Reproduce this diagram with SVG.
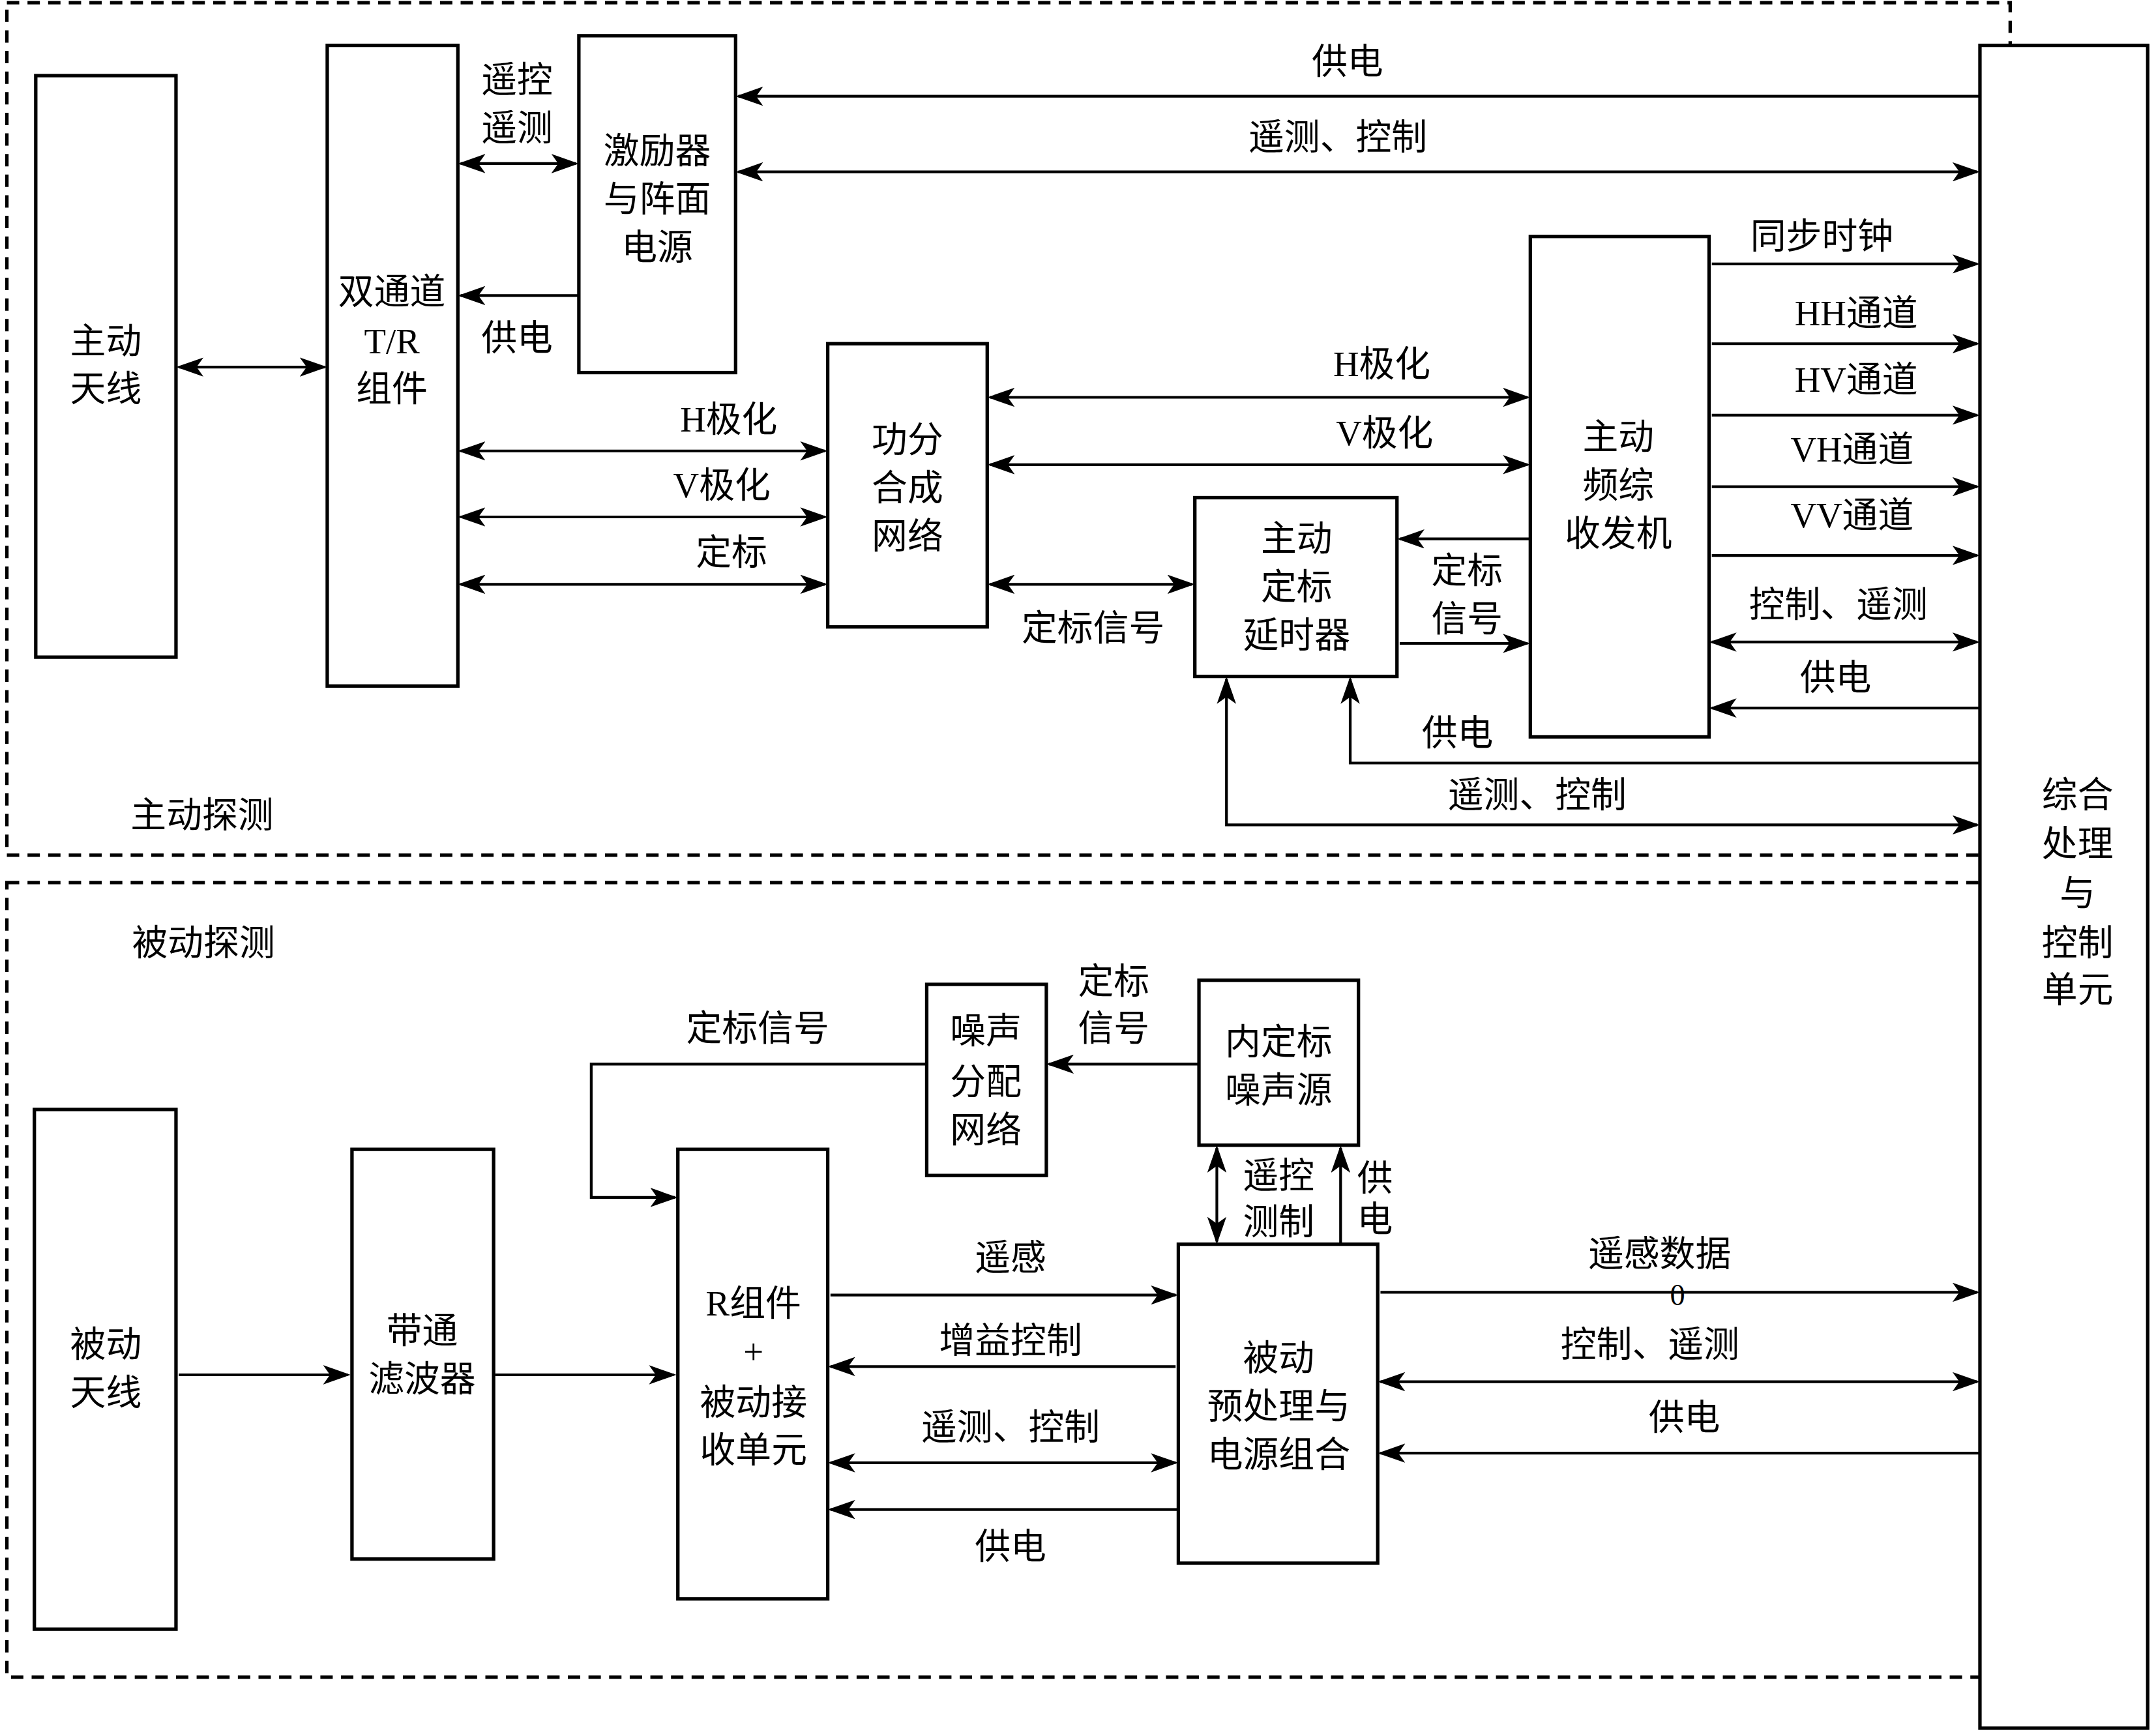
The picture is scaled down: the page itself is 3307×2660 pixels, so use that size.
<svg xmlns="http://www.w3.org/2000/svg" width="3307" height="2660" viewBox="0 0 3307 2660">
<style>
.b{fill:#fff;stroke:#000;stroke-width:2.5}
.d{fill:none;stroke:#000;stroke-width:2.5;stroke-dasharray:9 6}
.c{fill:none;stroke:#000;stroke-width:2}
text{font-family:"Liberation Serif","Noto Sans CJK SC",serif;font-size:26px;text-anchor:middle;dominant-baseline:central;fill:#000}
</style>
<defs>
<marker id="a" markerUnits="userSpaceOnUse" markerWidth="20" markerHeight="14" refX="18" refY="7" orient="auto-start-reverse"><path d="M0,0 L20,7 L0,14 L5,7 z" fill="#000"/></marker>
</defs>
<rect width="3307" height="2660" fill="#fff"/>
<g transform="scale(2.109)">
<rect class="d" x="5" y="2" width="1457" height="620"/>
<rect class="d" x="5" y="642" width="1457" height="578"/>
<g id="ctrl"><rect class="b" x="1440" y="33" width="122" height="1224"/><text x="1511" y="578">综合</text><text x="1511" y="614">处理</text><text x="1511" y="650">与</text><text x="1511" y="686">控制</text><text x="1511" y="720">单元</text></g>
<g id="ant1"><rect class="b" x="26" y="55" width="102" height="423"/><text x="77" y="248">主动</text><text x="77" y="283">天线</text></g>
<g id="tr"><rect class="b" x="238" y="33" width="95" height="466"/><text x="285" y="212">双通道</text><text x="285" y="248">T/R</text><text x="285" y="283">组件</text></g>
<g id="exc"><rect class="b" x="421" y="26" width="114" height="245"/><text x="478" y="110">激励器</text><text x="478" y="145">与阵面</text><text x="478" y="180">电源</text></g>
<g id="pwr"><rect class="b" x="602" y="250" width="116" height="206"/><text x="660" y="320">功分</text><text x="660" y="355">合成</text><text x="660" y="390">网络</text></g>
<g id="fz"><rect class="b" x="1113" y="172" width="130" height="364"/><text x="1177" y="318">主动</text><text x="1177" y="353">频综</text><text x="1177" y="388">收发机</text></g>
<g id="dl"><rect class="b" x="869" y="362" width="147" height="130"/><text x="943" y="392">主动</text><text x="943" y="427">定标</text><text x="943" y="462">延时器</text></g>
<g id="ant2"><rect class="b" x="25" y="807" width="103" height="378"/><text x="77" y="978">被动</text><text x="77" y="1013">天线</text></g>
<g id="bp"><rect class="b" x="256" y="836" width="103" height="298"/><text x="307" y="968">带通</text><text x="307" y="1003">滤波器</text></g>
<g id="r"><rect class="b" x="493" y="836" width="109" height="327"/><text x="548" y="948">R组件</text><text x="548" y="983">+</text><text x="548" y="1020">被动接</text><text x="548" y="1055">收单元</text></g>
<g id="nd"><rect class="b" x="674" y="716" width="87" height="139"/><text x="717" y="750">噪声</text><text x="717" y="787">分配</text><text x="717" y="822">网络</text></g>
<g id="ns"><rect class="b" x="872" y="713" width="116" height="120"/><text x="930" y="758">内定标</text><text x="930" y="793">噪声源</text></g>
<g id="pp"><rect class="b" x="857" y="905" width="145" height="232"/><text x="930" y="988">被动</text><text x="930" y="1023">预处理与</text><text x="930" y="1058">电源组合</text></g>
<g id="connectors">
<path class="c" d="M130,267H236" marker-start="url(#a)" marker-end="url(#a)"/>
<path class="c" d="M335,119H419" marker-start="url(#a)" marker-end="url(#a)"/>
<path class="c" d="M421,215H335" marker-end="url(#a)"/>
<path class="c" d="M1440,70H537" marker-end="url(#a)"/>
<path class="c" d="M537,125H1438" marker-start="url(#a)" marker-end="url(#a)"/>
<path class="c" d="M335,328H600" marker-start="url(#a)" marker-end="url(#a)"/>
<path class="c" d="M335,376H600" marker-start="url(#a)" marker-end="url(#a)"/>
<path class="c" d="M335,425H600" marker-start="url(#a)" marker-end="url(#a)"/>
<path class="c" d="M720,289H1111" marker-start="url(#a)" marker-end="url(#a)"/>
<path class="c" d="M720,338H1111" marker-start="url(#a)" marker-end="url(#a)"/>
<path class="c" d="M720,425H867" marker-start="url(#a)" marker-end="url(#a)"/>
<path class="c" d="M1113,392H1018" marker-end="url(#a)"/>
<path class="c" d="M1018,468H1111" marker-end="url(#a)"/>
<path class="c" d="M1245,192H1438" marker-end="url(#a)"/>
<path class="c" d="M1245,250H1438" marker-end="url(#a)"/>
<path class="c" d="M1245,302H1438" marker-end="url(#a)"/>
<path class="c" d="M1245,354H1438" marker-end="url(#a)"/>
<path class="c" d="M1245,404H1438" marker-end="url(#a)"/>
<path class="c" d="M1245,467H1438" marker-start="url(#a)" marker-end="url(#a)"/>
<path class="c" d="M1440,515H1245" marker-end="url(#a)"/>
<path class="c" d="M1440,555H982V494" marker-end="url(#a)"/>
<path class="c" d="M892,494V600H1438" marker-start="url(#a)" marker-end="url(#a)"/>
<path class="c" d="M130,1000H253" marker-end="url(#a)"/>
<path class="c" d="M360,1000H490" marker-end="url(#a)"/>
<path class="c" d="M872,774H763" marker-end="url(#a)"/>
<path class="c" d="M674,774H430V871H491" marker-end="url(#a)"/>
<path class="c" d="M885,835V903" marker-start="url(#a)" marker-end="url(#a)"/>
<path class="c" d="M975,905V835" marker-end="url(#a)"/>
<path class="c" d="M604,942H855" marker-end="url(#a)"/>
<path class="c" d="M855,994H604" marker-end="url(#a)"/>
<path class="c" d="M604,1064H855" marker-start="url(#a)" marker-end="url(#a)"/>
<path class="c" d="M857,1098H604" marker-end="url(#a)"/>
<path class="c" d="M1004,940H1438" marker-end="url(#a)"/>
<path class="c" d="M1004,1005H1438" marker-start="url(#a)" marker-end="url(#a)"/>
<path class="c" d="M1440,1057H1004" marker-end="url(#a)"/>
</g>
<g id="labels">
<text x="376" y="58">遥控</text><text x="376" y="93">遥测</text><text x="376" y="246">供电</text>
<text x="980" y="45">供电</text><text x="973" y="100">遥测、控制</text>
<text x="530" y="305">H极化</text><text x="525" y="353">V极化</text><text x="532" y="402">定标</text>
<text x="1005" y="265">H极化</text><text x="1007" y="315">V极化</text>
<text x="795" y="457">定标信号</text><text x="1067" y="415">定标</text><text x="1067" y="450">信号</text>
<text x="1325" y="172">同步时钟</text><text x="1350" y="228">HH通道</text><text x="1350" y="276">HV通道</text><text x="1347" y="327">VH通道</text><text x="1347" y="375">VV通道</text>
<text x="1337" y="440">控制、遥测</text><text x="1335" y="493">供电</text><text x="1060" y="533">供电</text><text x="1118" y="578">遥测、控制</text>
<text x="147" y="593">主动探测</text><text x="148" y="686">被动探测</text>
<text x="810" y="714">定标</text><text x="810" y="748">信号</text><text x="551" y="748">定标信号</text>
<text x="930" y="855">遥控</text><text x="930" y="889">测制</text><text x="1000" y="857">供</text><text x="1000" y="887">电</text>
<text x="735" y="915">遥感</text><text x="735" y="975">增益控制</text><text x="735" y="1038">遥测、控制</text><text x="735" y="1125">供电</text>
<text x="1207" y="912">遥感数据</text><text x="1220" y="942" style="font-size:22px">0</text>
<text x="1200" y="978">控制、遥测</text><text x="1225" y="1031">供电</text>
</g>
</g>
</svg>
